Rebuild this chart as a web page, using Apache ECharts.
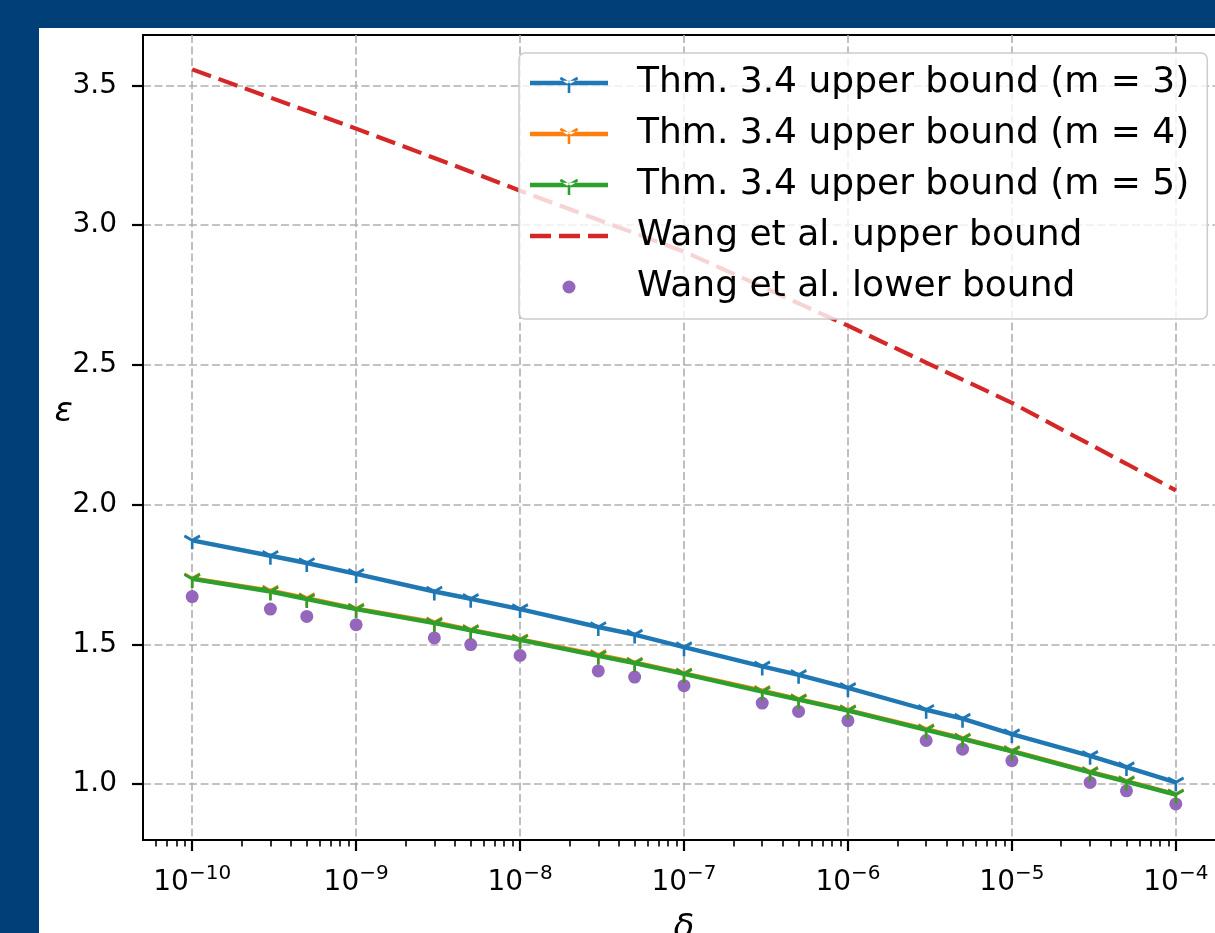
<!DOCTYPE html>
<html><head><meta charset="utf-8">
<script src="https://cdn.jsdelivr.net/npm/echarts@6/dist/echarts.min.js"></script>
<style>
html,body{margin:0;padding:0;width:1215px;height:933px;overflow:hidden;background:#013f78;}
#c{position:absolute;left:39px;top:28px;width:1200px;height:905px;background:#ffffff;}
</style></head><body><div id="c"></div>
<script>
// ---- data ----
const deltas = [1e-10, 3e-10, 5e-10, 1e-9, 3e-9, 5e-9, 1e-8, 3e-8, 5e-8, 1e-7, 3e-7, 5e-7, 1e-6, 3e-6, 5e-6, 1e-5, 3e-5, 5e-5, 1e-4];
const thmM3 = [1.872, 1.817, 1.791, 1.752, 1.689, 1.663, 1.626, 1.562, 1.535, 1.490, 1.421, 1.391, 1.344, 1.266, 1.234, 1.179, 1.101, 1.061, 1.006];
const thmM4 = [1.736, 1.692, 1.665, 1.628, 1.579, 1.552, 1.518, 1.462, 1.435, 1.396, 1.334, 1.304, 1.265, 1.197, 1.164, 1.119, 1.044, 1.011, 0.963];
const thmM5 = [1.734, 1.689, 1.662, 1.626, 1.576, 1.550, 1.516, 1.459, 1.433, 1.394, 1.331, 1.302, 1.263, 1.194, 1.162, 1.117, 1.042, 1.009, 0.962];
const wangUpper = [3.557, 3.456, 3.409, 3.345, 3.240, 3.191, 3.123, 3.019, 2.971, 2.905, 2.779, 2.720, 2.640, 2.508, 2.447, 2.364, 2.215, 2.146, 2.051];
const wangLower = [1.671, 1.626, 1.600, 1.570, 1.523, 1.499, 1.460, 1.405, 1.383, 1.352, 1.290, 1.260, 1.227, 1.156, 1.125, 1.084, 1.006, 0.976, 0.929];
const seriesNames = ['Thm. 3.4 upper bound (m = 3)', 'Thm. 3.4 upper bound (m = 4)', 'Thm. 3.4 upper bound (m = 5)', 'Wang et al. upper bound', 'Wang et al. lower bound'];
const xTickExponents = [-10, -9, -8, -7, -6, -5, -4];
const yTickValues = [1.0, 1.5, 2.0, 2.5, 3.0, 3.5];
const xName = 'δ';
const yName = 'ε';

// ---- styling ----
const FONT = 'DejaVu Sans';
const C = { blue: '#1f77b4', orange: '#ff7f0e', green: '#2ca02c', red: '#d62728', purple: '#9467bd' };
const X_MIN = -10.3, X_MAX = -3.7, Y_MIN = 0.8, Y_MAX = 3.68;

const minorTicks = [];
for (let e = -11; e <= -4; e++) {
  for (let k = 2; k <= 9; k++) {
    const v = e + Math.log10(k);
    if (v > X_MIN && v < X_MAX) minorTicks.push(v);
  }
}

const TRI = 'path://M0,-9L0,-9M0,0L0,9M0,0L-7.79,-4.5M0,0L7.79,-4.5';
const BOX = 'M0,0L0,0M102,24L102,24';
const ICON_LINE = 'path://' + BOX + 'M0,9.8H78V14.2H0Z' +
  'M37.7,12H40.3V22H37.7Z' +
  'M39.65,10.874L30.99,5.874L29.69,8.126L38.35,13.126Z' +
  'M39.65,13.126L48.31,8.126L47.01,5.874L38.35,10.874Z';
const ICON_DASH = 'path://' + BOX + 'M0,9.8H21V14.2H0ZM29,9.8H50V14.2H29ZM58,9.8H78V14.2H58Z';
const ICON_DOT = 'path://' + BOX + 'M45.5,12A6.5,6.5,0,1,1,32.5,12A6.5,6.5,0,1,1,45.5,12Z';

function pts(ys) { return deltas.map((d, i) => [Math.log10(d), ys[i]]); }

function triSeries(name, ys, color) {
  return {
    name, type: 'line', data: pts(ys),
    symbol: TRI, symbolSize: [15.58, 18], showSymbol: true,
    lineStyle: { color, width: 4.4 },
    itemStyle: { color, borderColor: color, borderWidth: 2.8 },
    emphasis: { disabled: true }
  };
}

const chart = echarts.init(document.getElementById('c'), null, { renderer: 'canvas' });
chart.setOption({
  animation: false,
  backgroundColor: '#ffffff',
  grid: { left: 104, top: 7, width: 1082, height: 805, show: true, borderColor: '#000', borderWidth: 2, backgroundColor: 'transparent', outerBoundsMode: 'none', containLabel: false },
  legend: {
    orient: 'vertical', left: 480, top: 25,
    padding: [12, 18, 14, 11],
    itemWidth: 102, itemHeight: 24, itemGap: 15,
    backgroundColor: 'rgba(255,255,255,0.8)', borderColor: '#cccccc', borderWidth: 1.5, borderRadius: 6,
    textStyle: { fontFamily: FONT, fontSize: 36, color: '#000' },
    itemStyle: { borderWidth: 0 },
    selectedMode: false,
    data: [
      { name: seriesNames[0], icon: ICON_LINE },
      { name: seriesNames[1], icon: ICON_LINE },
      { name: seriesNames[2], icon: ICON_LINE },
      { name: seriesNames[3], icon: ICON_DASH },
      { name: seriesNames[4], icon: ICON_DOT }
    ]
  },
  xAxis: [
    {
      type: 'value', min: X_MIN, max: X_MAX, position: 'bottom',
      name: xName, nameLocation: 'middle', nameGap: 72, nameMoveOverlap: false,
      nameTextStyle: { fontFamily: FONT, fontSize: 34, fontStyle: 'italic', color: '#000' },
      axisLine: { show: true, lineStyle: { color: '#000', width: 2 } },
      axisTick: { show: true, customValues: xTickExponents, length: 11, lineStyle: { color: '#000', width: 2.2 } },
      axisLabel: {
        customValues: xTickExponents, margin: 24,
        formatter: v => '{b|10}{s|\u2212' + Math.round(-v) + '}',
        rich: {
          b: { fontFamily: FONT, fontSize: 28, lineHeight: 38, color: '#000' },
          s: { fontFamily: FONT, fontSize: 20, lineHeight: 20, verticalAlign: 'top', color: '#000' }
        }
      },
      splitLine: { show: true, lineStyle: { color: '#b0b0b0', width: 1.6, type: [8, 3.5] } }
    },
    {
      type: 'value', min: X_MIN, max: X_MAX, position: 'bottom', gridIndex: 0,
      axisLine: { show: false },
      axisTick: { show: true, customValues: minorTicks, length: 6.5, lineStyle: { color: '#000', width: 1.6 } },
      axisLabel: { show: false },
      splitLine: { show: false }
    }
  ],
  yAxis: {
    type: 'value', min: Y_MIN, max: Y_MAX,
    name: yName, nameLocation: 'middle', nameGap: 70, nameRotate: 0, nameMoveOverlap: false,
    nameTextStyle: { fontFamily: FONT, fontSize: 34, fontStyle: 'italic', color: '#000', verticalAlign: 'bottom', lineHeight: 50 },
    axisLine: { show: true, lineStyle: { color: '#000', width: 2 } },
    axisTick: { show: true, customValues: yTickValues, length: 11, lineStyle: { color: '#000', width: 2.2 } },
    axisLabel: { customValues: yTickValues, margin: 26, formatter: v => v.toFixed(1), fontFamily: FONT, fontSize: 28, color: '#000' },
    splitLine: { show: true, lineStyle: { color: '#b0b0b0', width: 1.6, type: [8, 3.5] } }
  },
  series: [
    triSeries(seriesNames[0], thmM3, C.blue),
    triSeries(seriesNames[1], thmM4, C.orange),
    triSeries(seriesNames[2], thmM5, C.green),
    {
      name: seriesNames[3], type: 'line', data: pts(wangUpper), showSymbol: false, symbol: 'none',
      lineStyle: { color: C.red, width: 4.2, type: [20, 8] }, itemStyle: { color: C.red },
      emphasis: { disabled: true }
    },
    {
      name: seriesNames[4], type: 'scatter', data: pts(wangLower), symbol: 'circle', symbolSize: 13,
      itemStyle: { color: C.purple, opacity: 1 }, emphasis: { disabled: true }
    }
  ]
});
</script></body></html>
